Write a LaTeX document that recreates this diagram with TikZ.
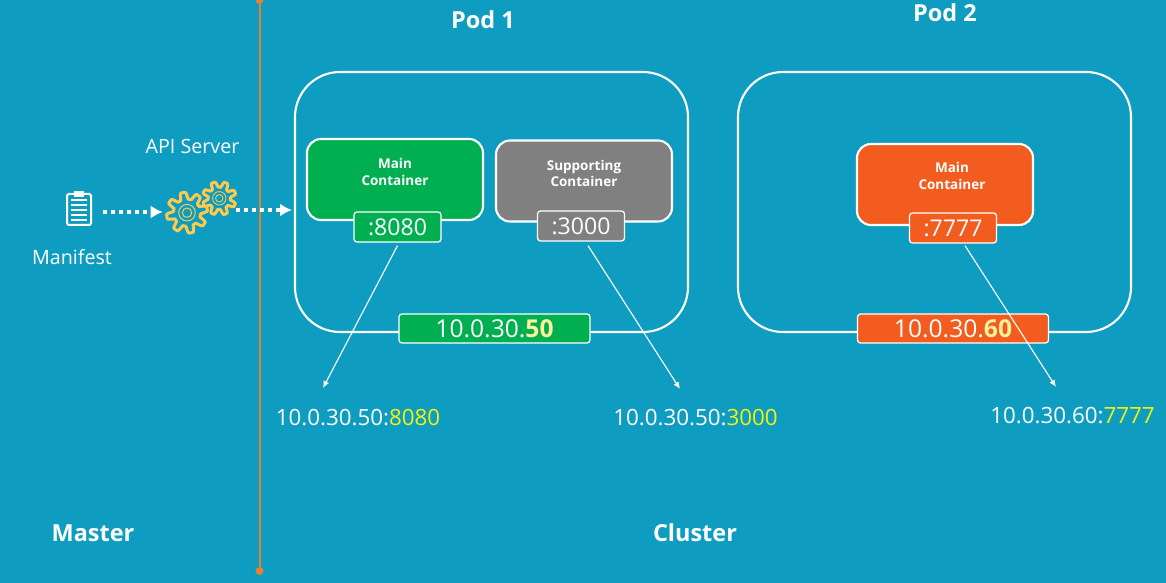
\documentclass[tikz,border=0pt]{standalone}
\usepackage{xcolor}
\usepackage{fontspec}
\setmainfont{Open Sans}
\usetikzlibrary{arrows.meta}

\definecolor{bgblue}{HTML}{0E9DC1}
\definecolor{podgreen}{HTML}{00B050}
\definecolor{podgrey}{HTML}{808080}
\definecolor{podorange}{HTML}{F35C1F}
\definecolor{lineorange}{HTML}{E8802F}
\definecolor{geargold}{HTML}{FFC94D}
\definecolor{portyellow}{HTML}{F2F20F}
\definecolor{ippale}{HTML}{FFF09A}

\newcommand{\gearicon}[2]{%
  \draw[geargold,line width=3*0.025cm,line join=round] plot[domain=0:360,samples=121,smooth] (\x+#2:{#1*(0.83+0.17*min(1,max(-1,1.8*sin(8*\x))))*0.025cm}) -- cycle;
}

\tikzset{
  podbox/.style={draw=white,line width=1.5pt,rounded corners=45*0.025cm,minimum width=393*0.025cm,minimum height=260*0.025cm},
  mainbox/.style={draw=white,line width=1.5pt,rounded corners=14*0.025cm,minimum width=176*0.025cm,minimum height=81*0.025cm},
  portbox/.style={draw=white,line width=0.9pt,rounded corners=3*0.025cm,minimum width=87*0.025cm,minimum height=30*0.025cm,text=white,inner sep=0pt,font=\fontsize{16.4}{18}\selectfont},
  ipbox/.style={draw=white,line width=0.9pt,rounded corners=3*0.025cm,minimum width=191*0.025cm,minimum height=29*0.025cm,text=white,inner sep=0pt,font=\fontsize{17.5}{20}\selectfont},
  tagtext/.style={text=white,align=center,inner sep=0pt,font=\fontsize{9.6}{12}\bfseries\selectfont},
  titletext/.style={text=white,inner sep=0pt,font=\fontsize{16.7}{20}\bfseries\selectfont},
  plaintext/.style={text=white,inner sep=0pt,font=\fontsize{14}{16}\selectfont},
  addrtext/.style={text=white,inner sep=0pt,font=\fontsize{15.9}{18}\selectfont},
  flowarrow/.style={draw=white,line width=4*0.025cm,dash pattern=on 4*0.025cm off 4*0.025cm,-{Latex[length=12*0.025cm,width=13*0.025cm]}},
  portarrow/.style={draw=white,line width=0.8pt,-{Latex[length=7*0.025cm,width=6*0.025cm]}}
}

\begin{document}
\begin{tikzpicture}[x=0.025cm,y=-0.025cm]
    \useasboundingbox (0,0) rectangle (1166,583);
    \fill[bgblue] (0,0) rectangle (1166,583);

    % master / cluster split
    \node[circle,fill=lineorange,inner sep=0pt,minimum size=8*0.025cm] (top) at (259.5,0) {};
    \node[circle,fill=lineorange,inner sep=0pt,minimum size=8*0.025cm] (bottom) at (259.5,571) {};
    \draw[lineorange,line width=2*0.025cm] (top) -- (bottom);

    \node[titletext] (master) at (93,533) {Master};
    \node[titletext] (cluster) at (695,533) {Cluster};
    \node[titletext] (podname1) at (483,20) {Pod 1};
    \node[titletext] (podname2) at (945,13) {Pod 2};

    % manifest icon
    \node[plaintext] (manifest) at (72,257) {Manifest};
    \node[plaintext] (apiserver) at (192.5,146) {API Server};
    \node[minimum width=48*0.025cm,minimum height=40*0.025cm,inner sep=0pt] (clip) at (79,212) {};
    \draw[white,line width=2*0.025cm,fill=bgblue,rounded corners=1.5*0.025cm] (67,194) rectangle (91,225);
    \fill[white] (74,191.5) rectangle (84,197);
    \foreach \y in {200,205,210,215,220}
        \draw[white,line width=1.5*0.025cm] (71,\y) -- (87,\y);

    % gears
    \node[circle,minimum size=48*0.025cm,inner sep=0pt] (gear1) at (187,212) {};
    \begin{scope}[shift={(187,212.7)}]
        \gearicon{20.5}{0}
        \draw[geargold,line width=0.7pt] (0,0) circle (8.3) (0,0) circle (4.7);
    \end{scope}
    \begin{scope}[shift={(219.3,198.3)}]
        \gearicon{16.8}{10}
        \draw[geargold,line width=0.6pt] (0,0) circle (6.7) (0,0) circle (3.7);
    \end{scope}
    \coordinate (gearout) at (236,210);
    \coordinate (podin) at (292,210);
    \draw[flowarrow] (clip) -- (gear1);
    \draw[flowarrow] (gearout) -- (podin);

    % pods
    \node[podbox] (pod1) at (491.5,202) {};
    \node[podbox] (pod2) at (934.5,202) {};

    \node[mainbox,fill=podgreen] (main1) at (395,179.5) {};
    \node[tagtext] (main1text) at (395,172) {Main\\Container};
    \node[mainbox,fill=podgrey] (supp1) at (584,181) {};
    \node[tagtext] (supp1text) at (584,173.5) {Supporting\\Container};
    \node[mainbox,fill=podorange] (main2) at (945,184.5) {};
    \node[tagtext] (main2text) at (952,176) {Main\\Container};

    \node[portbox,fill=podgreen] (port8080) at (397.5,227) {\raisebox{-1pt}{:8080}};
    \node[portbox,fill=podgrey] (port3000) at (581,226) {\raisebox{-1pt}{:3000}};
    \node[portbox,fill=podorange] (port7777) at (953,228) {\raisebox{-1pt}{:7777}};

    \node[ipbox,fill=podgreen] (ip1) at (494.5,328.5) {\raisebox{-1pt}{10.0.30.\textcolor{ippale}{\textbf{50}}}};
    \node[ipbox,fill=podorange] (ip2) at (953,328.5) {\raisebox{-1pt}{10.0.30.\textcolor{ippale}{\textbf{60}}}};

    % service addresses
    \node[addrtext] (addr1) at (358,418) {10.0.30.50:\textcolor{portyellow}{8080}};
    \node[addrtext] (addr2) at (695.5,418) {10.0.30.50:\textcolor{portyellow}{3000}};
    \node[addrtext] (addr3) at (1072.5,416) {10.0.30.60:\textcolor{portyellow}{7777}};

    \coordinate (tip1) at (323,388);
    \coordinate (tip2) at (680,389);
    \coordinate (tip3) at (1056,387);
    \draw[portarrow] ([yshift=-3*0.025cm]port8080.south) -- (tip1);
    \draw[portarrow] ([xshift=7*0.025cm,yshift=-4*0.025cm]port3000.south) -- (tip2);
    \draw[portarrow] ([xshift=12*0.025cm,yshift=-2*0.025cm]port7777.south) -- (tip3);
\end{tikzpicture}
\end{document}
